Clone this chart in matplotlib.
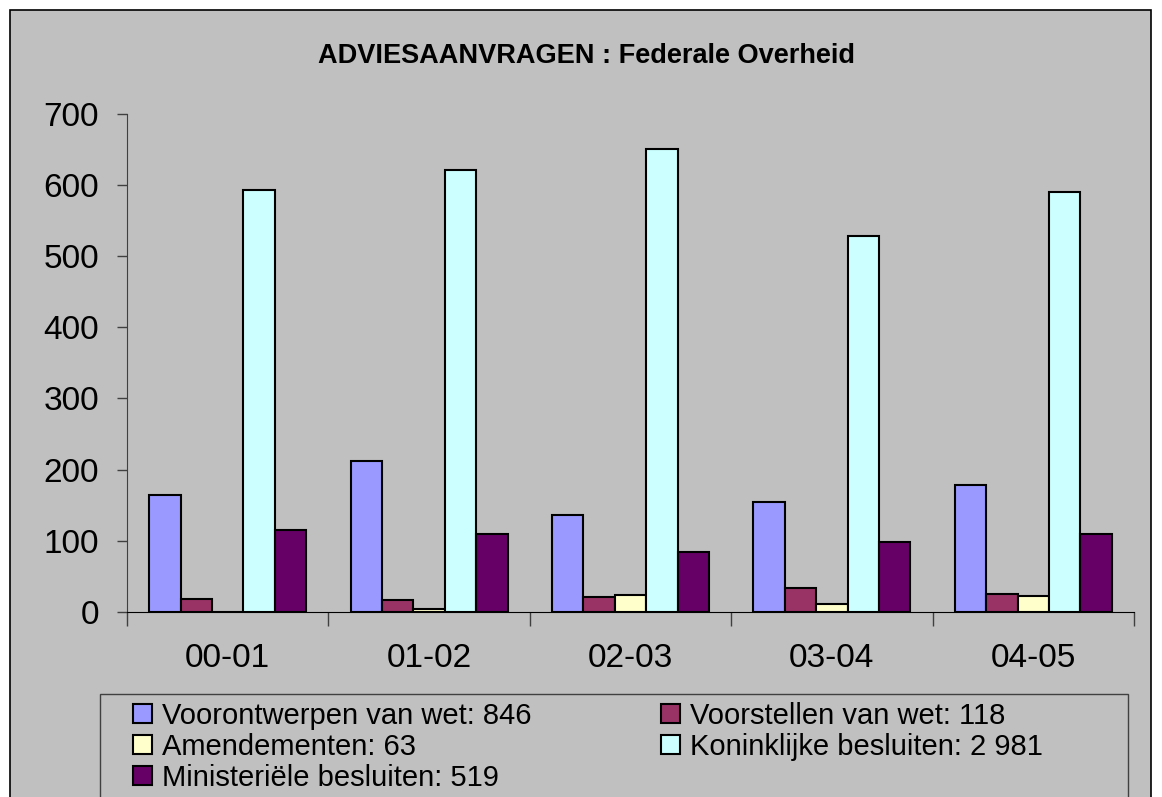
import matplotlib
matplotlib.use("Agg")
import matplotlib.pyplot as plt
from matplotlib.patches import Rectangle
import numpy as np

plt.rcParams['font.family'] = ['Liberation Sans', 'DejaVu Sans']

jaren = ["00-01", "01-02", "02-03", "03-04", "04-05"]
voorontwerpen = [165, 212, 137, 154, 178]
voorstellen = [19, 17, 22, 34, 26]
amendementen = [0, 4, 24, 12, 23]
koninklijke = [592, 621, 650, 528, 590]
ministeriele = [115, 110, 85, 99, 110]

labels = ["Voorontwerpen van wet: 846", "Voorstellen van wet: 118",
          "Amendementen: 63", "Koninklijke besluiten: 2 981",
          "Ministeriële besluiten: 519"]
kleuren = ["#9999FF", "#993366", "#FFFFCC", "#CCFFFF", "#660066"]
reeksen = [voorontwerpen, voorstellen, amendementen, koninklijke, ministeriele]

W, H = 1162, 797
fig = plt.figure(figsize=(W / 100, H / 100), dpi=100)
fig.patch.set_facecolor("white")

# grijs kader rond de grafiek
fig.patches.append(Rectangle((10 / W, -0.05), (1151 - 10) / W, 1 - 10 / H + 0.05,
                             transform=fig.transFigure, facecolor="#C0C0C0",
                             edgecolor="black", lw=1.2, zorder=-5))

ax = fig.add_axes([127 / W, 1 - 612.2 / H, (1134 - 127) / W, (612.2 - 113.5) / H])
ax.set_facecolor("none")
ax.set_zorder(2)

x = np.arange(len(jaren))
bw = 0.156
handles = []
for i, (vals, kl) in enumerate(zip(reeksen, kleuren)):
    b = ax.bar(x + (i - 2) * bw, vals, width=bw, color=kl, edgecolor="black", lw=1.5, zorder=3)
    handles.append(b)

ax.set_xlim(-0.5, len(jaren) - 0.5)
ax.set_ylim(0, 700)
ax.set_yticks(range(0, 701, 100))
ax.set_xticks(x)
ax.set_xticklabels(jaren)
ax.set_xticks(np.arange(-0.5, len(jaren)), minor=True)
ax.tick_params(axis="x", which="major", length=0, pad=22, labelsize=24)
ax.tick_params(axis="x", which="minor", length=10, width=1, color="#404040", direction="out")
ax.tick_params(axis="y", length=7, width=1, color="#404040", labelsize=24, pad=13)
for s in ["top", "right"]:
    ax.spines[s].set_visible(False)
ax.spines["left"].set_color("#404040")
ax.spines["bottom"].set_color("black")

fig.text(587 / W, 1 - 56 / H, "ADVIESAANVRAGEN : Federale Overheid",
         ha="center", va="center", fontsize=19.5, fontweight="bold")

# legendakader
fig.patches.append(Rectangle((100 / W, -0.05), (1128 - 100) / W, 1 - 694 / H + 0.05,
                             transform=fig.transFigure, facecolor="none",
                             edgecolor="#404040", lw=1, zorder=1))

order = [0, 2, 4, 1, 3]
leg = fig.legend([handles[i] for i in order], [labels[i] for i in order],
                 ncol=2, loc="upper left", bbox_to_anchor=(132.7 / W, 1 - 702 / H),
                 frameon=False, fontsize=21, handlelength=0.65, handleheight=0.6,
                 handletextpad=0.34, labelspacing=0.1, columnspacing=4.45,
                 borderaxespad=0, borderpad=0)

fig.savefig("out.png", dpi=100, facecolor=fig.get_facecolor())
